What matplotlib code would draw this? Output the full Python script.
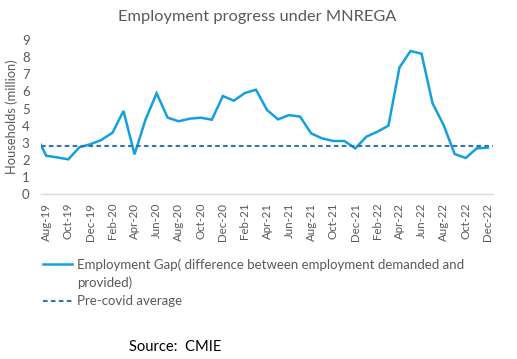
import matplotlib
matplotlib.use("Agg")
import matplotlib.pyplot as plt
from matplotlib.lines import Line2D

months = ["Jul-19",
          "Aug-19", "Sep-19", "Oct-19", "Nov-19", "Dec-19",
          "Jan-20", "Feb-20", "Mar-20", "Apr-20", "May-20", "Jun-20", "Jul-20",
          "Aug-20", "Sep-20", "Oct-20", "Nov-20", "Dec-20",
          "Jan-21", "Feb-21", "Mar-21", "Apr-21", "May-21", "Jun-21", "Jul-21",
          "Aug-21", "Sep-21", "Oct-21", "Nov-21", "Dec-21",
          "Jan-22", "Feb-22", "Mar-22", "Apr-22", "May-22", "Jun-22", "Jul-22",
          "Aug-22", "Sep-22", "Oct-22", "Nov-22", "Dec-22"]
gap = [3.55,
       2.25, 2.15, 2.04, 2.74, 2.92,
       3.17, 3.59, 4.86, 2.33, 4.37, 5.89, 4.47,
       4.26, 4.41, 4.47, 4.35, 5.73,
       5.46, 5.91, 6.10, 4.92, 4.37, 4.62, 4.53,
       3.55, 3.26, 3.11, 3.11, 2.68,
       3.36, 3.65, 4.00, 7.40, 8.36, 8.20, 5.30,
       4.04, 2.35, 2.12, 2.68, 2.72]
precovid_avg = 2.84

tick_labels = months[1::2]
yticks = list(range(0, 10))

plt.rcParams['font.family'] = ['Lato', 'DejaVu Sans']
grey = "#595959"

fig = plt.figure(figsize=(5.17, 3.59), dpi=100)
ax = fig.add_axes([40.7/517, 1-194.3/359, (493.3-40.7)/517, (194.3-40)/359])

x = list(range(-1, len(months)-1))
ax.plot(x, gap, color="#14a0de", lw=1.8, solid_joinstyle='miter', clip_on=True,
        label="Employment Gap( difference between employment demanded and")
ax.plot([-0.5, len(months)-1.5], [precovid_avg, precovid_avg], color="#2e75b6",
        lw=1.5, dashes=(2.2, 1.6), label="Pre-covid average")

ax.set_xlim(-0.5, len(months)-1.5)
ax.set_ylim(0, 9)
ax.set_yticks(yticks)
ax.set_xticks(x[1::2])
ax.set_xticklabels(tick_labels, rotation=90, fontsize=8.3, color=grey)
ax.tick_params(axis='y', labelsize=9.5, colors=grey, length=0, pad=8)
ax.tick_params(axis='x', length=0, pad=6)
for s in ["top", "right", "left"]:
    ax.spines[s].set_visible(False)
ax.spines["bottom"].set_color("#d9d9d9")
ax.spines["bottom"].set_linewidth(1.0)
ax.set_ylabel("Households (million)", fontsize=9.3, color=grey, labelpad=3)

fig.text(257/517, 1-17/359, "Employment progress under MNREGA", ha="center", va="center",
         fontsize=11.8, color=grey)

h = ax.get_lines()
blank = Line2D([], [], color="none")
leg = fig.legend([h[0], blank, h[1]],
                 ["Employment Gap( difference between employment demanded and",
                  "provided)", "Pre-covid average"],
                 loc="upper left", bbox_to_anchor=(38/517, 1-253/359), frameon=False,
                 fontsize=9.5, labelcolor=grey, handlelength=2.2, handletextpad=0.35,
                 labelspacing=0.45, borderaxespad=0)

fig.text(129/517, 1-347/359, "Source:  CMIE", ha="left", va="center", fontsize=10.6,
         color="black")

fig.savefig("out.png", dpi=100)
